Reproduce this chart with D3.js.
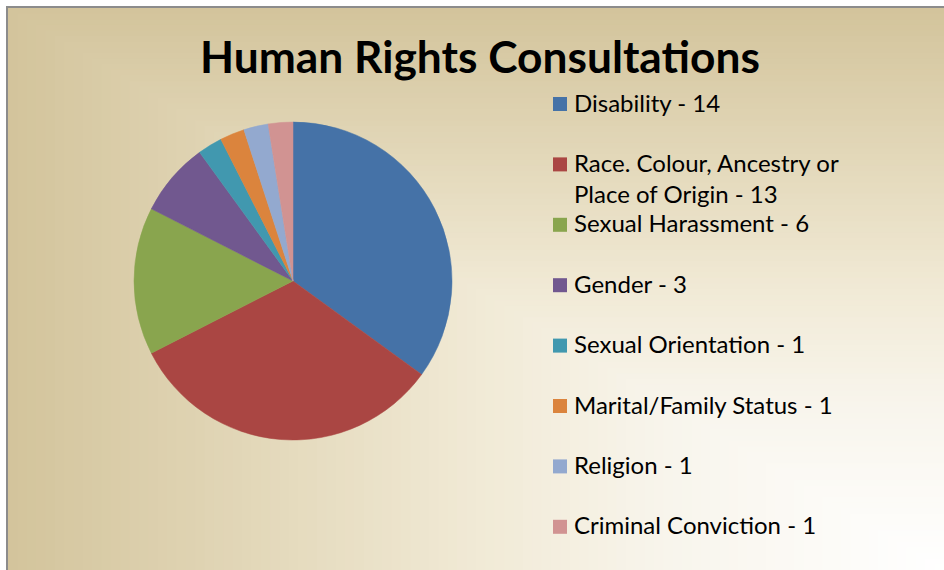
<!DOCTYPE html>
<html>
<head>
<meta charset="utf-8">
<script src="https://cdn.jsdelivr.net/npm/d3@7"></script>
<style>
  html, body { margin: 0; padding: 0; background: #fff; }
  svg { display: block; }
</style>
</head>
<body>
<svg id="chart"></svg>
<script>
// data
const categories = ["Disability", "Race. Colour, Ancestry or Place of Origin", "Sexual Harassment", "Gender",
  "Sexual Orientation", "Marital/Family Status", "Religion", "Criminal Conviction"];
const counts = [14, 13, 6, 3, 1, 1, 1, 1];
// legend text, wrapped like the original
const legendLines = [
  ["Disability - 14"],
  ["Race. Colour, Ancestry or", "Place of Origin - 13"],
  ["Sexual Harassment - 6"],
  ["Gender - 3"],
  ["Sexual Orientation - 1"],
  ["Marital/Family Status - 1"],
  ["Religion - 1"],
  ["Criminal Conviction - 1"]
];
const colors = ["#4572a7", "#aa4643", "#89a54e", "#71588f", "#4198af", "#db843d", "#93a9cf", "#d19392"];

const width = 944, height = 570;
const svg = d3.select("#chart").attr("width", width).attr("height", height);

// chart area, with gray border on top/left
const area = { x: 8, y: 8, w: width - 8, h: height - 8 };

// rectangular "from corner" gradient, drawn as nested rects from bottom-right
const bgColor = d3.scaleLinear()
  .domain([0, 0.3, 0.5, 0.75, 1])
  .range(["#ffffff", "#f8f5ec", "#f1ead6", "#e2d7b8", "#d3c49c"])
  .interpolate(d3.interpolateRgb);
const steps = d3.range(1, 0, -0.01);
svg.append("g").selectAll("rect")
  .data(steps)
  .enter()
  .append("rect")
  .attr("x", t => area.x + area.w * (1 - t))
  .attr("y", t => area.y + area.h * (1 - t))
  .attr("width", t => area.w * t)
  .attr("height", t => area.h * t)
  .attr("fill", t => bgColor(t));

svg.append("line").attr("x1", 6).attr("x2", width).attr("y1", 7).attr("y2", 7)
  .attr("stroke", "#8c8c8c").attr("stroke-width", 2);
svg.append("line").attr("x1", 7).attr("x2", 7).attr("y1", 6).attr("y2", height)
  .attr("stroke", "#8c8c8c").attr("stroke-width", 2);

// title, scaled to the original width
const title = svg.append("text")
  .attr("x", 480)
  .attr("y", 73)
  .attr("text-anchor", "middle")
  .attr("font-family", "Lato, 'Open Sans', sans-serif")
  .attr("font-weight", "bold")
  .attr("font-size", 40)
  .attr("fill", "#000")
  .text("Human Rights Consultations");
const tw = title.node().getComputedTextLength();
title.attr("font-size", 40 * 560 / tw);

// pie
const cx = 293, cy = 281, radius = 159;
const pie = d3.pie().sort(null).value(d => d);
const arc = d3.arc().innerRadius(0).outerRadius(radius);
const g = svg.append("g").attr("transform", `translate(${cx},${cy})`);
g.selectAll("path")
  .data(pie(counts))
  .enter()
  .append("path")
  .attr("d", arc)
  .attr("fill", (d, i) => colors[i])
  .attr("stroke", (d, i) => colors[i])
  .attr("stroke-width", 0.5);

// legend
const rowY = d3.scaleLinear().domain([0, 1]).range([104, 164.4]);
const legend = svg.append("g").selectAll("g")
  .data(categories)
  .enter()
  .append("g")
  .attr("transform", (d, i) => `translate(553,${rowY(i)})`);

legend.append("rect")
  .attr("x", 0)
  .attr("y", -7)
  .attr("width", 14)
  .attr("height", 14)
  .attr("fill", (d, i) => colors[i]);

legend.append("text")
  .attr("x", 21)
  .attr("y", 7.5)
  .attr("font-family", "Lato, 'Open Sans', sans-serif")
  .attr("font-size", 24)
  .attr("fill", "#000")
  .selectAll("tspan")
  .data((d, i) => legendLines[i])
  .enter()
  .append("tspan")
  .attr("x", 21)
  .attr("dy", (d, j) => j === 0 ? 0 : 31)
  .text(d => d);
</script>
</body>
</html>
